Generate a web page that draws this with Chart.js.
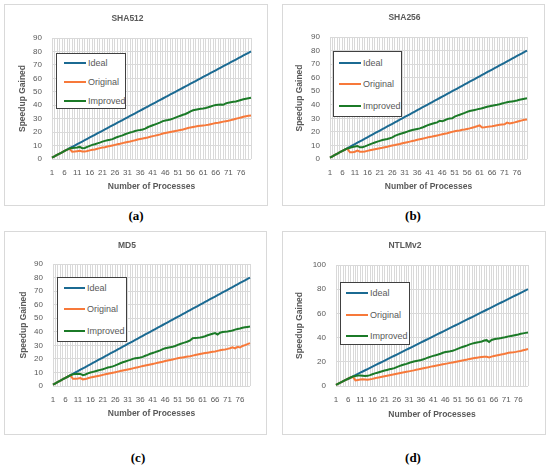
<!DOCTYPE html>
<html><head><meta charset="utf-8">
<script src="https://cdn.jsdelivr.net/npm/chart.js@4.4.1/dist/chart.umd.min.js"></script>
<style>
html,body{margin:0;padding:0;background:#fff;}
body{width:550px;height:466px;position:relative;overflow:hidden;font-family:"Liberation Sans",Arial,sans-serif;}
.frame{position:absolute;border:1px solid #d9d9d9;box-sizing:border-box;pointer-events:none;}
canvas{position:absolute;}
.legend{position:absolute;border:1px solid #404040;background:#fff;box-sizing:border-box;}
.item{position:absolute;font-size:9px;color:#595959;line-height:10px;white-space:nowrap;transform:translateY(-50%);}
.swatch{position:absolute;height:2px;transform:translateY(-50%);}
.lab{position:absolute;font-family:"Liberation Serif",serif;font-weight:bold;font-size:13px;color:#000;transform:translate(-50%,-50%);white-space:nowrap;}
</style></head><body>
<script>
const categories = ["1","2","3","4","5","6","7","8","9","10","11","12","13","14","15","16","17","18","19","20",
"21","22","23","24","25","26","27","28","29","30","31","32","33","34","35","36","37","38","39","40",
"41","42","43","44","45","46","47","48","49","50","51","52","53","54","55","56","57","58","59","60",
"61","62","63","64","65","66","67","68","69","70","71","72","73","74","75","76","77","78","79","80"];

const seriesNames = ["Ideal","Original","Improved"];
const chartTitles = ["SHA512","SHA256","MD5","NTLMv2"];
const panelLabels = ["(a)","(b)","(c)","(d)"];
const yMax = [90,90,90,100];
const yStep = [10,10,10,20];

const ideal = [1,2,3,4,5,6,7,8,9,10,11,12,13,14,15,16,17,18,19,20,
21,22,23,24,25,26,27,28,29,30,31,32,33,34,35,36,37,38,39,40,
41,42,43,44,45,46,47,48,49,50,51,52,53,54,55,56,57,58,59,60,
61,62,63,64,65,66,67,68,69,70,71,72,73,74,75,76,77,78,79,80];

const sha512Original = [1,2,3,4,5,6,7,7.6,
5.4,5.5,5.8,6.1,5.6,5.5,5.9,6.4,6.8,7.1,
7.6,8.1,8.5,8.8,9.3,9.7,10.1,10.5,10.9,11.3,
11.8,12.2,12.6,13.0,13.5,13.9,14.5,14.9,15.2,15.6,
16.0,16.5,17.0,17.4,17.8,18.3,18.9,19.3,19.7,20.1,
20.5,20.9,21.2,21.6,22.0,22.5,23.0,23.5,23.8,24.1,
24.5,24.8,25.0,25.2,25.5,25.9,26.3,26.7,27.0,27.4,
27.8,28.1,28.4,28.9,29.4,29.9,30.4,30.9,31.4,31.8,
32.1,32.4];
const sha512Improved = [1,2,3,4,5,6,7,7.8,
8.2,8.4,8.6,9.0,8.0,8.2,9.0,9.8,10.5,11.0,
11.6,12.2,12.9,13.5,14.0,14.3,14.8,15.6,16.4,17.0,
17.6,18.4,19.1,19.7,20.2,20.8,21.3,21.6,22.0,22.6,
23.6,24.4,25.1,25.8,26.5,27.3,28.2,28.7,29.0,29.4,
30.0,30.8,31.5,32.2,32.9,33.5,34.4,35.4,36.2,36.6,
37.0,37.3,37.6,38.0,38.5,39.1,39.7,40.1,40.4,40.6,
40.3,41.3,41.9,42.2,42.5,42.8,43.3,43.9,44.4,44.8,
45.2,45.6];

const sha256Original = [1,2,3,4,5,6,7,7.5,
5.0,4.9,5.4,6.2,5.4,5.3,5.6,6.0,6.4,6.8,
7.2,7.6,8.0,8.3,8.7,9.1,9.6,10.0,10.3,10.7,
11.1,11.6,12.0,12.4,12.8,13.3,13.7,14.2,14.6,15.0,
15.4,15.8,16.3,16.6,17.0,17.4,17.8,18.2,18.6,19.0,
19.5,20.0,20.4,20.8,21.1,21.5,21.8,22.2,22.6,23.1,
23.6,24.2,24.8,23.2,23.4,23.7,24.0,24.2,24.5,24.9,
25.2,25.4,25.6,26.8,26.2,26.6,27.0,27.5,28.0,28.5,
28.9,29.2];
const sha256Improved = [1,2,3,4,5,6,7,7.8,
8.3,8.8,9.2,9.6,8.6,8.7,9.3,10.0,10.8,11.5,
12.2,12.8,13.4,14.0,14.4,14.8,15.3,16.0,17.0,17.8,
18.4,19.0,19.6,20.2,20.8,21.4,21.8,22.2,22.6,23.2,
24.0,24.8,25.4,26.0,26.5,27.0,28.2,27.8,28.6,29.4,
29.8,30.0,31.2,32.0,32.6,33.3,34.0,34.8,35.4,35.8,
36.2,36.6,37.0,37.5,38.0,38.5,38.9,39.3,39.7,40.0,
40.4,40.9,41.4,41.8,42.2,42.5,42.8,43.2,43.7,44.1,
44.5,44.8];

const md5Original = [1,2,3,4,5,6,7,7.7,
5.3,5.4,5.6,5.9,4.9,5.1,5.7,6.2,6.6,7.0,
7.4,7.8,8.2,8.6,9.0,9.4,9.8,10.2,10.6,11.0,
11.4,11.8,12.2,12.6,13.0,13.4,13.8,14.3,14.7,15.1,
15.5,15.9,16.3,16.7,17.1,17.5,17.9,18.4,18.8,19.2,
19.6,20.0,20.4,20.8,21.1,21.4,21.7,22.0,22.4,22.8,
23.2,23.6,24.0,24.3,24.6,24.9,25.2,25.5,25.9,26.3,
26.7,27.0,27.4,27.9,28.6,27.8,28.9,28.4,29.5,30.2,
30.9,31.6];
const md5Improved = [1,2,3,4,5,6,7,7.9,
8.6,8.8,9.0,8.9,8.0,8.5,9.3,9.9,10.4,10.9,
11.4,11.9,12.4,13.0,13.6,14.0,14.5,15.2,16.0,16.8,
17.5,18.1,18.7,19.3,20.0,20.4,20.7,21.0,21.5,22.3,
23.0,23.8,24.4,25.0,25.6,26.3,27.2,27.8,28.2,28.6,
29.0,29.5,30.3,31.0,31.6,32.2,32.8,33.6,35.2,35.5,
35.6,35.8,36.1,36.7,37.4,38.0,38.6,39.0,38.0,39.3,
39.8,40.1,40.2,40.5,41.0,41.6,42.0,42.4,42.9,43.3,
43.6,43.9];

const ntlmOriginal = [1,2,3,4,5,6,7,7.5,
4.6,5.0,5.3,5.6,5.4,5.2,5.5,5.9,6.4,6.9,
7.3,7.7,8.1,8.5,8.9,9.3,9.7,10.1,10.5,10.9,
11.3,11.7,12.1,12.5,12.9,13.4,13.8,14.3,14.7,15.1,
15.5,16.0,16.4,16.8,17.2,17.5,17.9,18.3,18.7,19.1,
19.5,19.9,20.3,20.7,21.1,21.5,21.9,22.4,22.8,23.1,
23.4,23.7,24.0,24.2,24.1,23.6,24.3,24.8,25.2,25.6,
26.0,26.4,26.9,27.4,27.7,27.9,28.2,28.6,29.0,29.5,
30.0,30.5];
const ntlmImproved = [1,2,3,4,5,6,7,7.8,
8.3,8.6,8.7,8.5,8.2,8.4,9.0,9.7,10.4,11.0,
11.6,12.2,12.8,13.3,13.8,14.2,14.8,15.6,16.4,17.1,
17.7,18.3,19.0,19.7,20.2,20.6,21.0,21.5,22.1,22.8,
23.6,24.3,24.9,25.4,26.0,26.7,27.5,28.1,28.4,28.7,
29.2,29.9,30.7,31.5,32.2,32.9,33.6,34.4,35.0,35.5,
35.9,36.3,36.8,37.6,37.9,36.4,38.0,38.6,39.0,39.3,
39.6,40.0,40.5,41.0,41.4,41.8,42.2,42.6,43.1,43.5,
43.9,44.2];

const originalSeries = [sha512Original, sha256Original, md5Original, ntlmOriginal];
const improvedSeries = [sha512Improved, sha256Improved, md5Improved, ntlmImproved];

// layout (page pixels)
const colors = ["#1b6a92","#f7793a","#1b7a27"];
const panels = [
 {box:[4,4,264,202], plot:[52,38,251,159], titleY:19, yTitleX:23, xTitleY:187, leg:[56,53,70,56], rows:[9,28,47], sw:[7,29], tx:31, lab:[136,216]},
 {box:[282,4,263,202], plot:[330,37,527,159], titleY:18, yTitleX:300, xTitleY:187, leg:[333,51,69,66], rows:[11,32,54], sw:[5,27], tx:29, lab:[413,216]},
 {box:[4,231,263,204], plot:[53,264,250,386], titleY:246, yTitleX:24, xTitleY:414, leg:[57,277,70,65], rows:[10,31,53], sw:[6,27], tx:29, lab:[138,458]},
 {box:[282,231,264,204], plot:[336,265,528,386], titleY:246, yTitleX:300, xTitleY:415, leg:[340,282,70,63], rows:[10,32,53], sw:[5,27], tx:29, lab:[413,458]}
];

const FONT = "'Liberation Sans', Arial, sans-serif";
const GRAY = "#595959";

panels.forEach((p, k) => {
  const [bx, by, bw, bh] = p.box;
  const [pl, pt, pr, pb] = p.plot;
  const cv = document.createElement('canvas');
  cv.width = bw; cv.height = bh;
  cv.style.left = bx + 'px'; cv.style.top = by + 'px';
  cv.style.width = bw + 'px'; cv.style.height = bh + 'px';
  document.body.appendChild(cv);
  const fr = document.createElement('div');
  fr.className = 'frame';
  fr.style.cssText = `left:${bx}px;top:${by}px;width:${bw}px;height:${bh}px;`;
  document.body.appendChild(fr);

  const titleSize = 8.5, lh = titleSize * 1.2;
  const titlePadTop = (p.titleY - by) - lh / 2;
  const titlePadBottom = (pt - by) - titlePadTop - lh;
  const yAxisWidth = pl - bx;
  const yTitlePad = (p.yTitleX - bx) - lh / 2;
  const xAxisHeight = (by + bh) - pb;
  const xTitlePad = (by + bh) - p.xTitleY - lh / 2;
  const rightPad = (bx + bw) - pr;

  const dataSets = [ideal, originalSeries[k], improvedSeries[k]];
  new Chart(cv, {
    type: 'line',
    data: {
      labels: categories,
      datasets: seriesNames.map((n, i) => ({
        label: n, data: dataSets[i], borderColor: colors[i], backgroundColor: colors[i],
        borderWidth: 2, pointRadius: 0, tension: 0, fill: false, order: 3 - i
      }))
    },
    options: {
      responsive: false, animation: false, devicePixelRatio: 1,
      layout: { padding: { top: 0, right: rightPad, bottom: 0, left: 0 } },
      plugins: {
        legend: { display: false }, tooltip: { enabled: false },
        title: { display: true, text: chartTitles[k], color: GRAY,
          font: { family: FONT, size: titleSize, weight: 'bold', lineHeight: 1.2 },
          padding: { top: titlePadTop, bottom: titlePadBottom } }
      },
      scales: {
        x: {
          type: 'category', offset: false,
          grid: { color: '#d9d9d9', lineWidth: 1, drawTicks: false },
          border: { display: false },
          ticks: { autoSkip: false, maxRotation: 0, minRotation: 0, padding: 9, color: GRAY,
            font: { family: FONT, size: 8 },
            callback: (v, i) => (i % 5 === 0 ? categories[i] : '') },
          title: { display: true, text: 'Number of Processes', color: GRAY,
            font: { family: FONT, size: titleSize, weight: 'bold', lineHeight: 1.2 },
            padding: { top: 0, bottom: xTitlePad } },
          afterFit: s => { s.height = xAxisHeight; }
        },
        y: {
          min: 0, max: yMax[k],
          grid: { color: '#d9d9d9', lineWidth: 1, drawTicks: false },
          border: { display: false },
          ticks: { stepSize: yStep[k], padding: 10, color: GRAY, font: { family: FONT, size: 8 } },
          title: { display: true, text: 'Speedup Gained', color: GRAY,
            font: { family: FONT, size: titleSize, weight: 'bold', lineHeight: 1.2 },
            padding: { top: yTitlePad, bottom: 0 } },
          afterFit: s => { s.width = yAxisWidth; }
        }
      }
    }
  });

  // legend box
  const [lx, ly, lw, lhh] = p.leg;
  const lg = document.createElement('div');
  lg.className = 'legend';
  lg.style.cssText = `left:${lx}px;top:${ly}px;width:${lw}px;height:${lhh}px;`;
  seriesNames.forEach((n, i) => {
    const sw = document.createElement('div');
    sw.className = 'swatch';
    sw.style.cssText = `left:${p.sw[0]}px;width:${p.sw[1]-p.sw[0]}px;top:${p.rows[i]}px;background:${colors[i]};`;
    lg.appendChild(sw);
    const t = document.createElement('div');
    t.className = 'item';
    t.style.left = p.tx + 'px'; t.style.top = p.rows[i] + 'px';
    t.textContent = n;
    lg.appendChild(t);
  });
  document.body.appendChild(lg);

  const lb = document.createElement('div');
  lb.className = 'lab';
  lb.style.left = p.lab[0] + 'px'; lb.style.top = p.lab[1] + 'px';
  lb.textContent = panelLabels[k];
  document.body.appendChild(lb);
});
</script>
</body></html>
